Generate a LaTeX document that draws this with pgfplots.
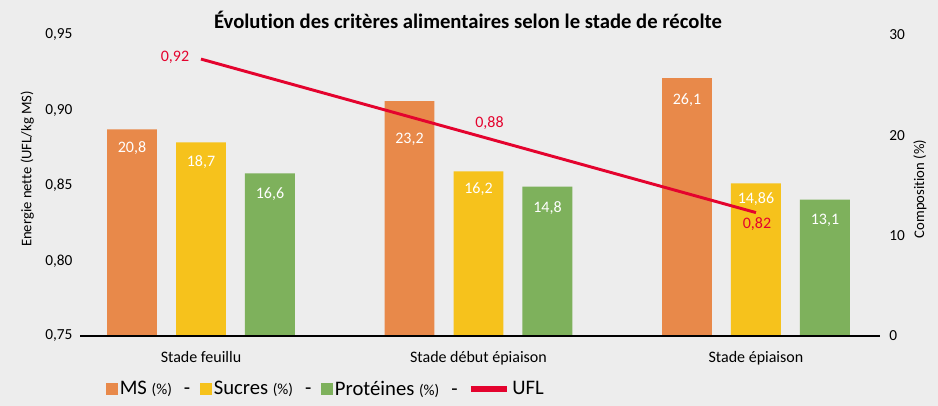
\documentclass[border=0pt]{standalone}
\usepackage{pgfplots}
\pgfplotsset{compat=1.18}
\usepackage{pgfplotstable}
\usepackage{fontspec}
\setmainfont{Carlito}[Ligatures={TeX,NoCommon}]
\definecolor{bg}{HTML}{EDEDED}
\definecolor{cms}{HTML}{E8894A}
\definecolor{csuc}{HTML}{F6C21C}
\definecolor{cprot}{HTML}{7EB15C}
\definecolor{cufl}{HTML}{E4032E}

% bars: x = category position (0,1,2) shifted to the bar's place within its group
\pgfplotstableread{
x y lab dy
-0.2486 20.6 20,8 -14.25
0.7514 23.4 23,2 -28.5
1.7514 25.7 26,1 -16.5
}\tms
\pgfplotstableread{
x y lab dy
0 19.3 18,7 -15
1 16.4 16,2 -13.5
2 15.2 14,86 -12
}\tsuc
\pgfplotstableread{
x y lab dy
0.2486 16.2 16,6 -15.75
1.2486 14.9 14,8 -16.5
2.2486 13.6 13,1 -15.75
}\tprot
\pgfplotstableread{
x y lab dx dy
0 0.934 0,92 -19.5 1.5
1 0.883 0,88 8.25 9.75
2 0.832 0,82 0.75 -8.5
}\tufl

\pgfplotsset{
  barlab/.style={nodes near coords, point meta=explicit symbolic,
    visualization depends on={\thisrow{dy}\as\mydy},
    every node near coord/.append style={anchor=center, yshift=\mydy pt, text=white,
      font=\fontsize{12}{14}\selectfont, inner sep=0pt}},
  common/.style={at={(60pt,52.5pt)}, anchor=south west, scale only axis,
    width=600pt, height=225.75pt, xmin=-0.436, xmax=2.447, clip=false,
    axis line style={draw=none}, major tick length=0pt,
    /pgf/number format/assume math mode=true},
}

\begin{document}
\begin{tikzpicture}
\fill[bg] (0,0) rectangle (703.5pt,304.5pt);
\useasboundingbox (0,0) rectangle (703.5pt,304.5pt);
\node[font=\fontsize{15.5}{17}\selectfont\bfseries] at (351pt,289.5pt)
  {Évolution des critères alimentaires selon le stade de récolte};

\begin{axis}[common, ymin=0, ymax=30,
  ytick={0,10,20,30}, ytick pos=right, yticklabel pos=right,
  xtick={0,1,2}, xtick pos=left,
  xticklabels={Stade feuillu, Stade début épiaison, Stade épiaison},
  x tick label style={font=\fontsize{12}{14}\selectfont, inner sep=0pt, yshift=-11pt},
  y tick label style={font=\fontsize{11.5}{13}\selectfont, inner sep=0pt, xshift=6.75pt},
]
\addplot[ybar, bar width=0.18, bar shift=0, fill=cms, draw=none, barlab]
  table[x=x, y=y, meta=lab]{\tms};
\addplot[ybar, bar width=0.18, bar shift=0, fill=csuc, draw=none, barlab]
  table[x=x, y=y, meta=lab]{\tsuc};
\addplot[ybar, bar width=0.18, bar shift=0, fill=cprot, draw=none, barlab]
  table[x=x, y=y, meta=lab]{\tprot};
\draw[line width=2pt, black] (rel axis cs:0,0) -- (rel axis cs:1,0);
\node[rotate=90, font=\fontsize{11}{13}\selectfont] at (rel axis cs:1.05,0.488) {Composition (\%)};
\end{axis}

\begin{axis}[common, ymin=0.75, ymax=0.95,
  xtick=\empty, ytick={0.75,0.8,0.85,0.9,0.95}, ytick pos=left,
  y tick label style={font=\fontsize{11.5}{13}\selectfont, inner sep=0pt, xshift=-5.5pt},
  scaled y ticks=false,
  yticklabel style={/pgf/number format/fixed, /pgf/number format/fixed zerofill,
    /pgf/number format/precision=2, /pgf/number format/use comma},
  legend style={at={(rel axis cs:0.3075,-0.176)}, anchor=center, draw=none, fill=none,
    font=\fontsize{15.5}{17}\selectfont, inner sep=0pt,
    nodes={inner sep=1.5pt},
    /tikz/every even column/.append style={column sep=6pt}},
  legend columns=-1, legend cell align=left,
]
\addlegendimage{legend image code/.code={\fill[cms] (0pt,-4.1pt) rectangle (8.25pt,4.1pt);}}
\addlegendentry{MS {\fontsize{11.5}{13}\selectfont(\%)}\hspace{9pt}-}
\addlegendimage{legend image code/.code={\fill[csuc] (0pt,-4.1pt) rectangle (8.25pt,4.1pt);}}
\addlegendentry{Sucres {\fontsize{11.5}{13}\selectfont(\%)}\hspace{9pt}-}
\addlegendimage{legend image code/.code={\fill[cprot] (0pt,-4.1pt) rectangle (8.25pt,4.1pt);}}
\addlegendentry{Protéines {\fontsize{11.5}{13}\selectfont(\%)}\hspace{9pt}-}
\addplot[cufl, line width=2.2pt, mark=none, nodes near coords, point meta=explicit symbolic,
  visualization depends on={\thisrow{dx}\as\mydx},
  visualization depends on={\thisrow{dy}\as\mydy},
  every node near coord/.append style={anchor=center, xshift=\mydx pt, yshift=\mydy pt,
    text=cufl, font=\fontsize{12}{14}\selectfont, inner sep=0pt},
  legend image code/.code={\draw[cufl, line width=5pt] (0pt,0pt) -- (27pt,0pt);}]
  table[x=x, y=y, meta=lab]{\tufl};
\addlegendentry{UFL}
\node[rotate=90, font=\fontsize{11}{13}\selectfont] at (rel axis cs:-0.066,0.555) {Energie nette (UFL/kg MS)};
\end{axis}
\end{tikzpicture}
\end{document}
